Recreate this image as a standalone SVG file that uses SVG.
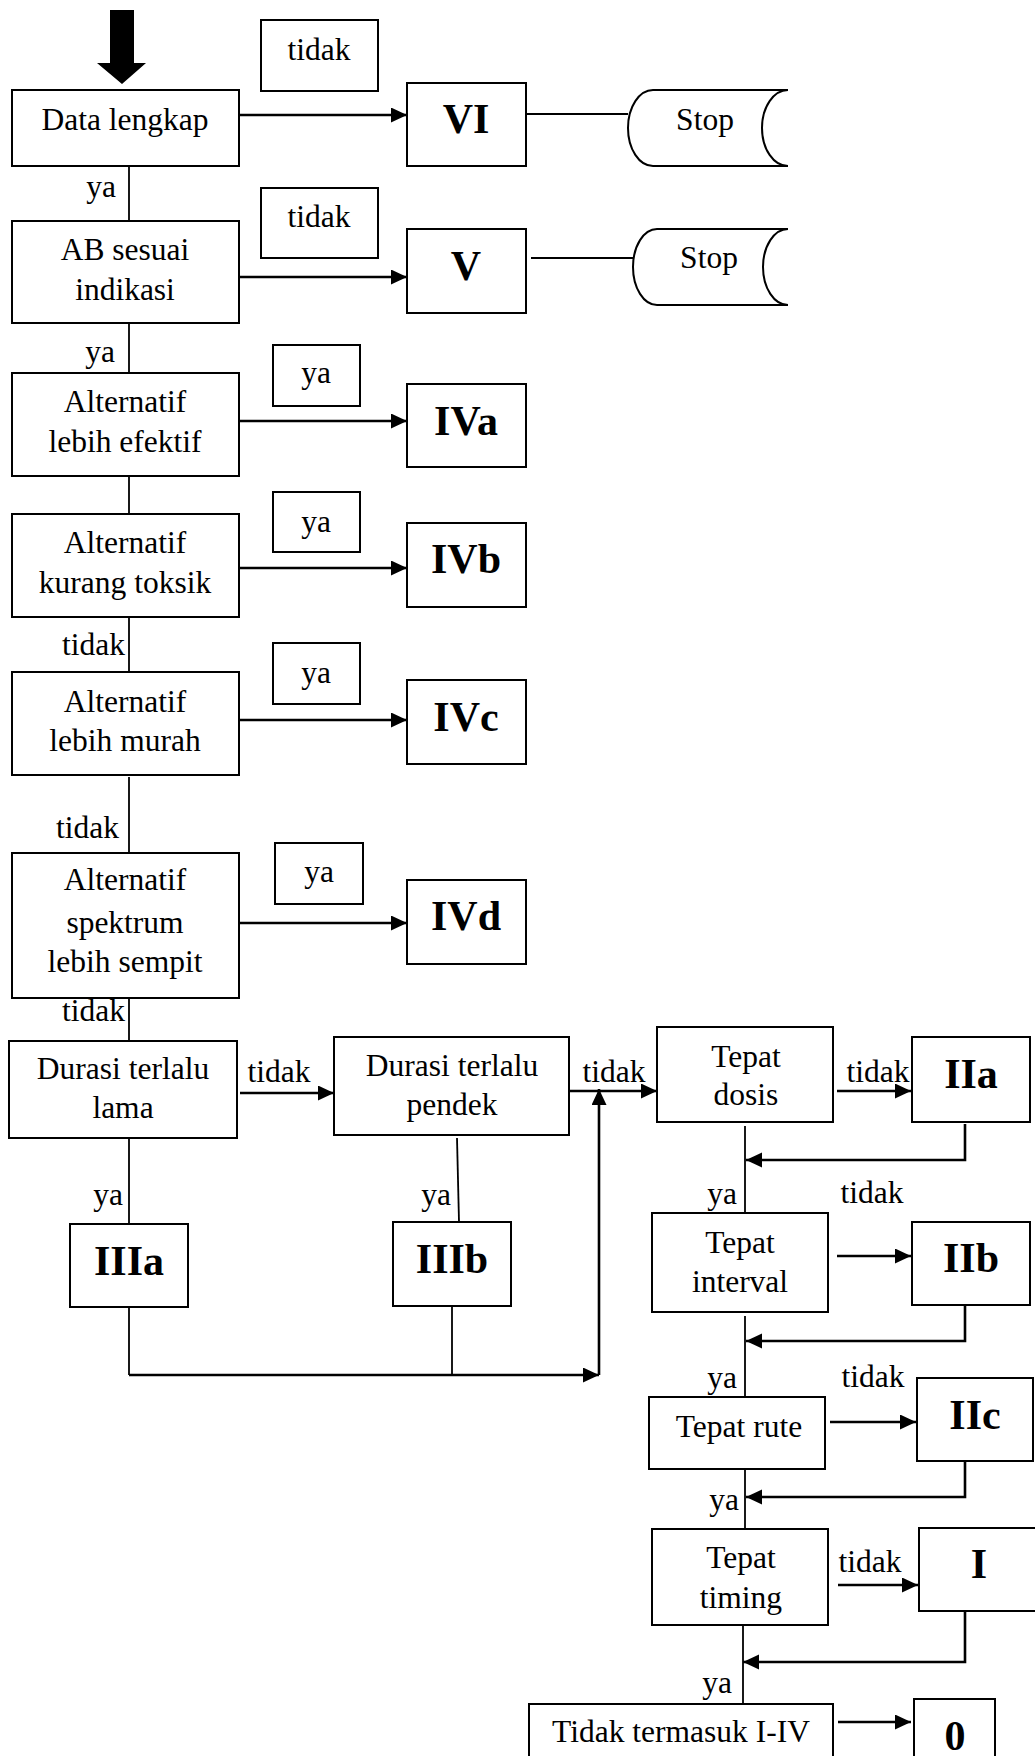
<svg xmlns="http://www.w3.org/2000/svg" width="1035" height="1756" viewBox="0 0 1035 1756">
<style>
  .box{fill:#fff;stroke:#000;stroke-width:2}
  .t{font-family:"Liberation Serif","Times New Roman",serif;font-size:31.5px;fill:#000;text-anchor:middle}
  .e{text-anchor:end}
  .b{font-family:"Liberation Serif","Times New Roman",serif;font-size:42px;font-weight:bold;fill:#000;text-anchor:middle}
  .ln{fill:none;stroke:#000;stroke-width:1.8}
  .ar{fill:none;stroke:#000;stroke-width:2.6}
</style>
<defs>
  <marker id="ah" markerUnits="userSpaceOnUse" markerWidth="16" markerHeight="16" refX="16" refY="7.5" orient="auto">
    <path d="M0,0 L16,7.5 L0,15 Z" fill="#000"/>
  </marker>
</defs>
<rect width="1035" height="1756" fill="#fff"/>

<g id="connectors">
  <polygon points="110,10 134,10 134,63 146,63 122,84 97,63 110,63" fill="#000"/>
  <line class="ar" x1="239" y1="115" x2="407" y2="115" marker-end="url(#ah)"/>
  <line class="ln" x1="526" y1="114" x2="628" y2="114"/>
  <line class="ln" x1="129" y1="166" x2="129" y2="221"/>
  <line class="ar" x1="239" y1="277" x2="407" y2="277" marker-end="url(#ah)"/>
  <line class="ln" x1="531" y1="258" x2="633" y2="258"/>
  <line class="ln" x1="129" y1="323" x2="129" y2="373"/>
  <line class="ar" x1="239" y1="421" x2="407" y2="421" marker-end="url(#ah)"/>
  <line class="ln" x1="129" y1="476" x2="129" y2="514"/>
  <line class="ar" x1="239" y1="568" x2="407" y2="568" marker-end="url(#ah)"/>
  <line class="ln" x1="129" y1="617" x2="129" y2="672"/>
  <line class="ar" x1="239" y1="720" x2="407" y2="720" marker-end="url(#ah)"/>
  <line class="ln" x1="129" y1="777" x2="129" y2="853"/>
  <line class="ar" x1="239" y1="923" x2="407" y2="923" marker-end="url(#ah)"/>
  <line class="ln" x1="129" y1="998" x2="129" y2="1041"/>
  <line class="ar" x1="240" y1="1093" x2="334" y2="1093" marker-end="url(#ah)"/>
  <line class="ln" x1="129" y1="1138" x2="129" y2="1224"/>
  <line class="ln" x1="457" y1="1138" x2="459" y2="1222"/>
  <line class="ln" x1="129" y1="1307" x2="129" y2="1375"/>
  <line class="ln" x1="452" y1="1306" x2="452" y2="1375"/>
  <line class="ar" x1="129" y1="1375" x2="599" y2="1375" marker-end="url(#ah)"/>
  <line class="ar" x1="599" y1="1375" x2="599" y2="1089" marker-end="url(#ah)"/>
  <line class="ar" x1="569" y1="1091" x2="657" y2="1091" marker-end="url(#ah)"/>
  <line class="ar" x1="837" y1="1091" x2="911" y2="1091" marker-end="url(#ah)"/>
  <polyline class="ar" points="965,1124 965,1160 746,1160" marker-end="url(#ah)"/>
  <line class="ln" x1="745" y1="1126" x2="745" y2="1213"/>
  <line class="ar" x1="837" y1="1256" x2="911" y2="1256" marker-end="url(#ah)"/>
  <polyline class="ar" points="965,1305 965,1341 746,1341" marker-end="url(#ah)"/>
  <line class="ln" x1="745" y1="1316" x2="745" y2="1397"/>
  <line class="ar" x1="830" y1="1422" x2="916" y2="1422" marker-end="url(#ah)"/>
  <polyline class="ar" points="965,1461 965,1497 746,1497" marker-end="url(#ah)"/>
  <line class="ln" x1="745" y1="1469" x2="745" y2="1529"/>
  <line class="ar" x1="838" y1="1585" x2="918" y2="1585" marker-end="url(#ah)"/>
  <polyline class="ar" points="965,1611 965,1662 743,1662" marker-end="url(#ah)"/>
  <line class="ln" x1="743" y1="1625" x2="743" y2="1704"/>
  <line class="ar" x1="838" y1="1722" x2="911" y2="1722" marker-end="url(#ah)"/>
  <text class="t e" x="116" y="197">ya</text>
  <text class="t e" x="115" y="362">ya</text>
  <text class="t e" x="125" y="655">tidak</text>
  <text class="t e" x="119" y="838">tidak</text>
  <text class="t e" x="125" y="1021">tidak</text>
  <text class="t" x="279" y="1082">tidak</text>
  <text class="t e" x="123" y="1205">ya</text>
  <text class="t e" x="451" y="1205">ya</text>
  <text class="t" x="614" y="1082">tidak</text>
  <text class="t" x="878" y="1082">tidak</text>
  <text class="t e" x="737" y="1204">ya</text>
  <text class="t" x="872" y="1203">tidak</text>
  <text class="t e" x="737" y="1388">ya</text>
  <text class="t" x="873" y="1387">tidak</text>
  <text class="t e" x="739" y="1510">ya</text>
  <text class="t" x="870" y="1572">tidak</text>
  <text class="t e" x="732" y="1693">ya</text>
</g>

<g id="n-data-lengkap"><rect class="box" x="12" y="90" width="227" height="76"/><text class="t" x="125" y="130">Data lengkap</text></g>
<g id="n-tidak1"><rect class="box" x="261" y="20" width="117" height="71"/><text class="t" x="319" y="60">tidak</text></g>
<g id="n-VI"><rect class="box" x="407" y="83" width="119" height="83"/><text class="b" x="466" y="133">VI</text></g>
<g id="n-stop1"><path class="box" d="M788,90 H653 A25,38 0 0 0 653,166 H788 A26,38 0 0 1 788,90"/><text class="t" x="705" y="130">Stop</text></g>

<g id="n-ab"><rect class="box" x="12" y="221" width="227" height="102"/><text class="t" x="125" y="260">AB sesuai</text><text class="t" x="125" y="300">indikasi</text></g>
<g id="n-tidak2"><rect class="box" x="261" y="188" width="117" height="70"/><text class="t" x="319" y="227">tidak</text></g>
<g id="n-V"><rect class="box" x="407" y="229" width="119" height="84"/><text class="b" x="466" y="280">V</text></g>
<g id="n-stop2"><path class="box" d="M788,229 H657 A24,38 0 0 0 657,305 H788 A25,38 0 0 1 788,229"/><text class="t" x="709" y="268">Stop</text></g>

<g id="n-alt-efektif"><rect class="box" x="12" y="373" width="227" height="103"/><text class="t" x="125" y="412">Alternatif</text><text class="t" x="125" y="452">lebih efektif</text></g>
<g id="n-ya1"><rect class="box" x="273" y="345" width="87" height="61"/><text class="t" x="316" y="383">ya</text></g>
<g id="n-IVa"><rect class="box" x="407" y="384" width="119" height="83"/><text class="b" x="466" y="435">IVa</text></g>

<g id="n-alt-toksik"><rect class="box" x="12" y="514" width="227" height="103"/><text class="t" x="125" y="553">Alternatif</text><text class="t" x="125" y="593">kurang toksik</text></g>
<g id="n-ya2"><rect class="box" x="273" y="492" width="87" height="60"/><text class="t" x="316" y="532">ya</text></g>
<g id="n-IVb"><rect class="box" x="407" y="523" width="119" height="84"/><text class="b" x="466" y="573">IVb</text></g>

<g id="n-alt-murah"><rect class="box" x="12" y="672" width="227" height="103"/><text class="t" x="125" y="712">Alternatif</text><text class="t" x="125" y="751">lebih murah</text></g>
<g id="n-ya3"><rect class="box" x="273" y="643" width="87" height="61"/><text class="t" x="316" y="683">ya</text></g>
<g id="n-IVc"><rect class="box" x="407" y="680" width="119" height="84"/><text class="b" x="466" y="731">IVc</text></g>

<g id="n-alt-spektrum"><rect class="box" x="12" y="853" width="227" height="145"/><text class="t" x="125" y="890">Alternatif</text><text class="t" x="125" y="933">spektrum</text><text class="t" x="125" y="972">lebih sempit</text></g>
<g id="n-ya4"><rect class="box" x="275" y="843" width="88" height="61"/><text class="t" x="319" y="882">ya</text></g>
<g id="n-IVd"><rect class="box" x="407" y="880" width="119" height="84"/><text class="b" x="466" y="930">IVd</text></g>

<g id="n-durasi-lama"><rect class="box" x="9" y="1041" width="228" height="97"/><text class="t" x="123" y="1079">Durasi terlalu</text><text class="t" x="123" y="1118">lama</text></g>
<g id="n-durasi-pendek"><rect class="box" x="334" y="1037" width="235" height="98"/><text class="t" x="452" y="1076">Durasi terlalu</text><text class="t" x="452" y="1115">pendek</text></g>
<g id="n-IIIa"><rect class="box" x="70" y="1224" width="118" height="83"/><text class="b" x="129" y="1275">IIIa</text></g>
<g id="n-IIIb"><rect class="box" x="393" y="1222" width="118" height="84"/><text class="b" x="452" y="1273">IIIb</text></g>

<g id="n-tepat-dosis"><rect class="box" x="657" y="1027" width="176" height="95"/><text class="t" x="746" y="1067">Tepat</text><text class="t" x="746" y="1105">dosis</text></g>
<g id="n-IIa"><rect class="box" x="912" y="1037" width="118" height="85"/><text class="b" x="971" y="1088">IIa</text></g>
<g id="n-tepat-interval"><rect class="box" x="652" y="1213" width="176" height="99"/><text class="t" x="740" y="1253">Tepat</text><text class="t" x="740" y="1292">interval</text></g>
<g id="n-IIb"><rect class="box" x="912" y="1222" width="118" height="83"/><text class="b" x="971" y="1272">IIb</text></g>
<g id="n-tepat-rute"><rect class="box" x="649" y="1397" width="176" height="72"/><text class="t" x="739" y="1437">Tepat rute</text></g>
<g id="n-IIc"><rect class="box" x="917" y="1378" width="116" height="83"/><text class="b" x="975" y="1429">IIc</text></g>
<g id="n-tepat-timing"><rect class="box" x="652" y="1529" width="176" height="96"/><text class="t" x="741" y="1568">Tepat</text><text class="t" x="741" y="1608">timing</text></g>
<g id="n-I"><rect class="box" x="919" y="1528" width="130" height="83"/><text class="b" x="979" y="1578">I</text></g>
<g id="n-tidak-termasuk"><rect class="box" x="529" y="1704" width="304" height="70"/><text class="t" x="681" y="1742">Tidak termasuk I-IV</text></g>
<g id="n-0"><rect class="box" x="914" y="1699" width="81" height="70"/><text class="b" x="955" y="1750">0</text></g>
</svg>
